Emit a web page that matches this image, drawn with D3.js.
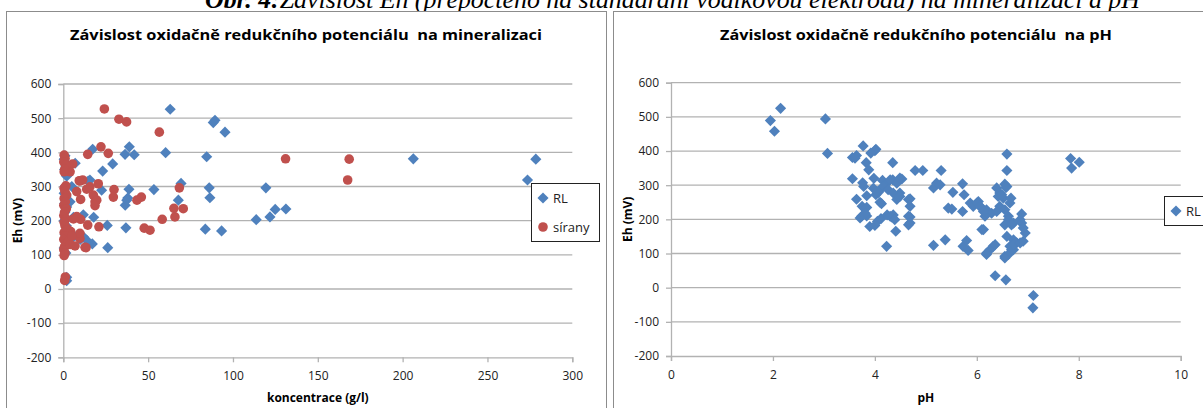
<!DOCTYPE html>
<html>
<head>
<meta charset="utf-8">
<script src="https://cdn.jsdelivr.net/npm/d3@7"></script>
<style>
  body { margin: 0; background: #fff; }
  svg { display: block; }
</style>
</head>
<body>
<script>
// ---- data ----
var caption = "Obr. 4:Závislost Eh (přepočteno na standardní vodíkovou elektrodu) na mineralizaci a pH";
var titleMineral = "Závislost oxidačně redukčního potenciálu  na mineralizaci";
var titlePh = "Závislost oxidačně redukčního potenciálu  na pH";
var seriesNames = ["RL", "sírany"];

var ehTicks = [-200, -100, 0, 100, 200, 300, 400, 500, 600];
var concTicks = [0, 50, 100, 150, 200, 250, 300];
var phTicks = [0, 2, 4, 6, 8, 10];

// [koncentrace g/l, Eh mV]
var rlMineral = [
  [63,526],[89.4,494],[88.4,487],[95.3,459],[60.3,399],[84.5,387],[38.9,416],[36.4,394],[41.8,393],
  [17.3,409],[29.1,366],[23.2,345],[69.4,309],[86,296],[86.4,267],[119.4,296],[53.4,291],[38.7,292],
  [22.6,289],[67.8,260],[38,266],[36.5,245],[131.2,234],[124.9,233],[121.8,211],[113.7,203],[83.7,175],
  [93.3,170],[36.9,179],[25.9,186],[17.9,210],[14.7,316],[7,368],[26.2,121],[17.1,132],[14.1,141],
  [11.8,153],[4,143],[2,34],[2,24],[206.3,381],[278.5,380],[273.6,319],[15.7,319],[11.8,217],[37.4,260],
  [1,390],[0.5,380],[1.5,360],[0.8,350],[2,330],[1,300],[0.5,280],[1.5,270],[0.8,250],[2,240],
  [1,225],[0.5,200],[1.8,185],[3,170],[1,160],[2,130],[0.5,120],[1.5,105],[5,300],[6,210],
  [8,155],[10,145],[4,255],[3,360]
];
var siranyMineral = [
  [24.2,527],[32.8,497],[37.3,489],[56.6,459],[22.2,416],[26.5,397],[14.4,394],[68.4,296],[29.9,291],
  [29.5,269],[20.6,308],[46,269],[43.4,260],[65.2,236],[70.7,235],[65.8,211],[58.3,204],[47.7,178],
  [51.1,172],[21,182],[14.4,187],[9.8,316],[5.5,366],[18.7,255],[7.9,285],[10.2,262],[13.4,121],
  [9.8,148],[12.8,122],[6.9,126],[131,381],[168.5,380],[167.6,319],[4,343],[11.4,319],[9.4,317],
  [13.8,292],[15.7,299],[17.7,275],[19.7,260],[18.7,244],[7.9,212],[10.2,204],[4.4,168],[9.8,163],
  [0.5,392],[1,383],[0.3,372],[1.5,362],[0.8,350],[0.5,343],[1.5,302],[0.5,295],[1,285],[2,275],
  [0.5,265],[1.2,255],[0.3,245],[1.8,235],[0.8,225],[0.3,215],[1.5,205],[0.5,195],[1,185],[2.5,175],
  [0.5,165],[1.2,155],[0.3,145],[1.8,135],[0.8,125],[0.3,115],[1,105],[0.5,98],[1.2,35],[0.8,25],
  [3,140],[4,130],[5,155],[6,205]
];

// [pH, Eh mV]
var rlPh = [
  [2.15,525],[1.95,489],[2.03,458],[3.03,494],[3.07,393],
  [3.77,415],[4.02,405],[4.0,401],[3.92,394],[3.56,381],[3.64,387],[3.61,379],[3.83,366],[3.88,345],[4.35,366],
  [3.56,319],[3.76,307],[3.78,296],[3.98,320],[4.15,314],[4.21,302],[4.35,316],[3.97,291],[4.1,287],
  [3.64,259],[3.84,269],[4.02,272],[4.07,279],[4.13,246],[3.75,238],[3.84,235],[3.74,209],[3.84,210],
  [3.9,179],[4.0,182],[4.05,194],[4.12,202],[4.33,207],[4.24,213],[4.41,165],[4.23,121],
  [4.3,316],[4.43,306],[4.53,318],[4.17,296],[4.26,287],[4.04,282],[4.49,277],[4.69,260],[4.43,258],
  [4.1,250],[3.81,218],[3.71,204],[4.66,184],[4.69,207],[4.36,213],
  [4.79,343],[4.94,343],[5.3,343],[6.59,343],
  [5.21,306],[5.15,292],[5.28,301],[5.72,304],[5.53,279],[5.75,272],[5.44,233],[5.51,230],[5.72,223],
  [6.1,170],[5.15,124],[5.38,140],[5.73,121],[5.8,138],[5.83,109],
  [5.87,248],[5.93,238],[6.03,252],[6.1,233],[6.19,228],[6.29,218],[6.16,209],
  [6.19,97],[6.32,121],[6.26,111],[6.36,35],[6.57,23],
  [6.39,292],[6.45,277],[6.59,296],[6.52,262],[6.65,248],[6.45,238],[6.55,228],[6.62,209],
  [6.59,150],[6.72,140],[6.65,121],[6.78,131],[6.55,92],[6.62,97],[6.72,111],
  [6.59,391],[7.84,378],[8.01,367],[7.86,350],
  [4.49,321],[4.36,277],[4.49,267],[4.66,258],[4.69,238],[4.3,209],[4.39,199],[4.66,209],[4.69,189],
  [6.55,303],[6.57,293],[6.42,267],[6.49,272],[6.67,262],[6.0,248],[6.06,238],[6.13,223],[6.39,223],
  [6.88,216],[6.85,199],[6.72,189],[6.62,199],[6.13,170],
  [7.11,-23],[7.1,-59],
  [6.19,101],[6.36,126],[6.55,87],[6.68,111],[6.72,126],[6.85,131],[6.91,136],[6.95,160],
  [6.88,189],[6.91,175],[6.55,184],[6.68,184]
];

var BLUE = "#4F81BD", RED = "#C0504D", GRID = "#b2b2b2", FONT = "'Open Sans', 'DejaVu Sans', sans-serif";

var svg = d3.select("body").append("svg").attr("width", 1203).attr("height", 408);

// caption of the figure, cut at the top like in the source
svg.append("text")
  .attr("x", 205).attr("y", 8)
  .attr("textLength", 935).attr("lengthAdjust", "spacingAndGlyphs")
  .style("font-family", "'Liberation Serif', serif").style("font-size", "25px").style("font-style", "italic")
  .html("<tspan font-weight='bold'>Obr. 4:</tspan>" + caption.slice(7));

function diamond(sel) {
  sel.append("path")
    .attr("d", d3.symbol(d3.symbolSquare, 62)())
    .attr("fill", BLUE);
}

function drawChart(cfg) {
  var g = svg.append("g");
  g.append("rect")
    .attr("x", cfg.frame[0] + 0.5).attr("y", 11.5)
    .attr("width", cfg.frame[1]).attr("height", 420)
    .attr("fill", "#fff").attr("stroke", "#8c8c8c");

  var x = d3.scaleLinear().domain(cfg.xDomain).range(cfg.xRange);
  var y = d3.scaleLinear().domain([-200, 600]).range(cfg.yRange);

  // gridlines
  g.selectAll(".grid").data(ehTicks.slice(1)).enter().append("line")
    .attr("x1", cfg.xRange[0]).attr("x2", cfg.xRange[1])
    .attr("y1", function(d) { return y(d); }).attr("y2", function(d) { return y(d); })
    .attr("stroke", GRID).attr("stroke-width", 1.3);

  var yAxis = g.append("g").attr("transform", "translate(" + cfg.xRange[0] + ",0)")
    .call(d3.axisLeft(y).tickValues(ehTicks).tickFormat(function(d) { return String(d); })
      .tickSize(5).tickPadding(7));
  var xAxis = g.append("g").attr("transform", "translate(0," + cfg.yRange[0] + ")")
    .call(d3.axisBottom(x).tickValues(cfg.xTicks).tickFormat(function(d) { return String(d); })
      .tickSize(5).tickPadding(9));
  [yAxis, xAxis].forEach(function(a) {
    a.select(".domain").attr("stroke", GRID).attr("stroke-width", 1.3);
    a.selectAll(".tick line").attr("stroke", GRID).attr("stroke-width", 1.3);
    a.selectAll("text").attr("fill", "#222").style("font-family", FONT).style("font-size", "12px");
  });

  // points
  cfg.series.forEach(function(s) {
    var pts = g.append("g").selectAll("g").data(s.data).enter().append("g")
      .attr("transform", function(d) {
        return "translate(" + x(d[0]) + "," + y(d[1]) + ") rotate(45)";
      });
    if (s.shape == "diamond") diamond(pts);
    else pts.append("circle").attr("r", 4.8).attr("fill", RED);
  });

  // titles
  g.append("text").attr("x", cfg.titleX).attr("y", 40).attr("text-anchor", "middle")
    .attr("textLength", cfg.titleLen).attr("lengthAdjust", "spacingAndGlyphs")
    .style("white-space", "pre")
    .style("font-family", FONT).style("font-size", "14px").style("font-weight", "bold")
    .text(cfg.title);
  g.append("text").attr("x", (cfg.xRange[0] + cfg.xRange[1]) / 2).attr("y", 402).attr("text-anchor", "middle")
    .style("font-family", FONT).style("font-size", "12px").style("font-weight", "bold")
    .text(cfg.xLabel);
  g.append("text").attr("transform", "translate(" + cfg.yLabelX + "," + (cfg.yRange[0] + cfg.yRange[1]) / 2 + ") rotate(-90)")
    .attr("text-anchor", "middle")
    .style("font-family", FONT).style("font-size", "12px").style("font-weight", "bold")
    .text("Eh (mV)");

  // legend
  var lg = g.append("g");
  lg.append("rect").attr("x", cfg.legend.x + 0.5).attr("y", cfg.legend.y + 0.5)
    .attr("width", cfg.legend.w).attr("height", cfg.legend.h)
    .attr("fill", "#fff").attr("stroke", "#222");
  cfg.series.forEach(function(s, i) {
    var ly = cfg.legend.y + 15 + i * 29;
    var m = lg.append("g").attr("transform", "translate(" + (cfg.legend.x + 12) + "," + ly + ") rotate(45)");
    if (s.shape == "diamond") diamond(m);
    else m.append("circle").attr("r", 4.8).attr("fill", RED);
    lg.append("text").attr("x", cfg.legend.x + 22).attr("y", ly + 5)
      .style("font-family", FONT).style("font-size", "13px").attr("fill", "#222")
      .text(s.name);
  });
}

drawChart({
  frame: [6, 600], xDomain: [0, 300], xRange: [63.3, 572.3], yRange: [357.3, 84],
  xTicks: concTicks, title: titleMineral, titleX: 306, titleLen: 472,
  xLabel: "koncentrace (g/l)", yLabelX: 22,
  legend: { x: 531, y: 183, w: 68, h: 58 },
  series: [
    { name: seriesNames[0], data: rlMineral, shape: "diamond" },
    { name: seriesNames[1], data: siranyMineral, shape: "circle" }
  ]
});

drawChart({
  frame: [613, 606], xDomain: [0, 10], xRange: [671, 1180.7], yRange: [356, 82.7],
  xTicks: phTicks, title: titlePh, titleX: 916, titleLen: 392,
  xLabel: "pH", yLabelX: 632,
  legend: { x: 1164, y: 196, w: 60, h: 29 },
  series: [
    { name: seriesNames[0], data: rlPh, shape: "diamond" }
  ]
});
</script>
</body>
</html>
